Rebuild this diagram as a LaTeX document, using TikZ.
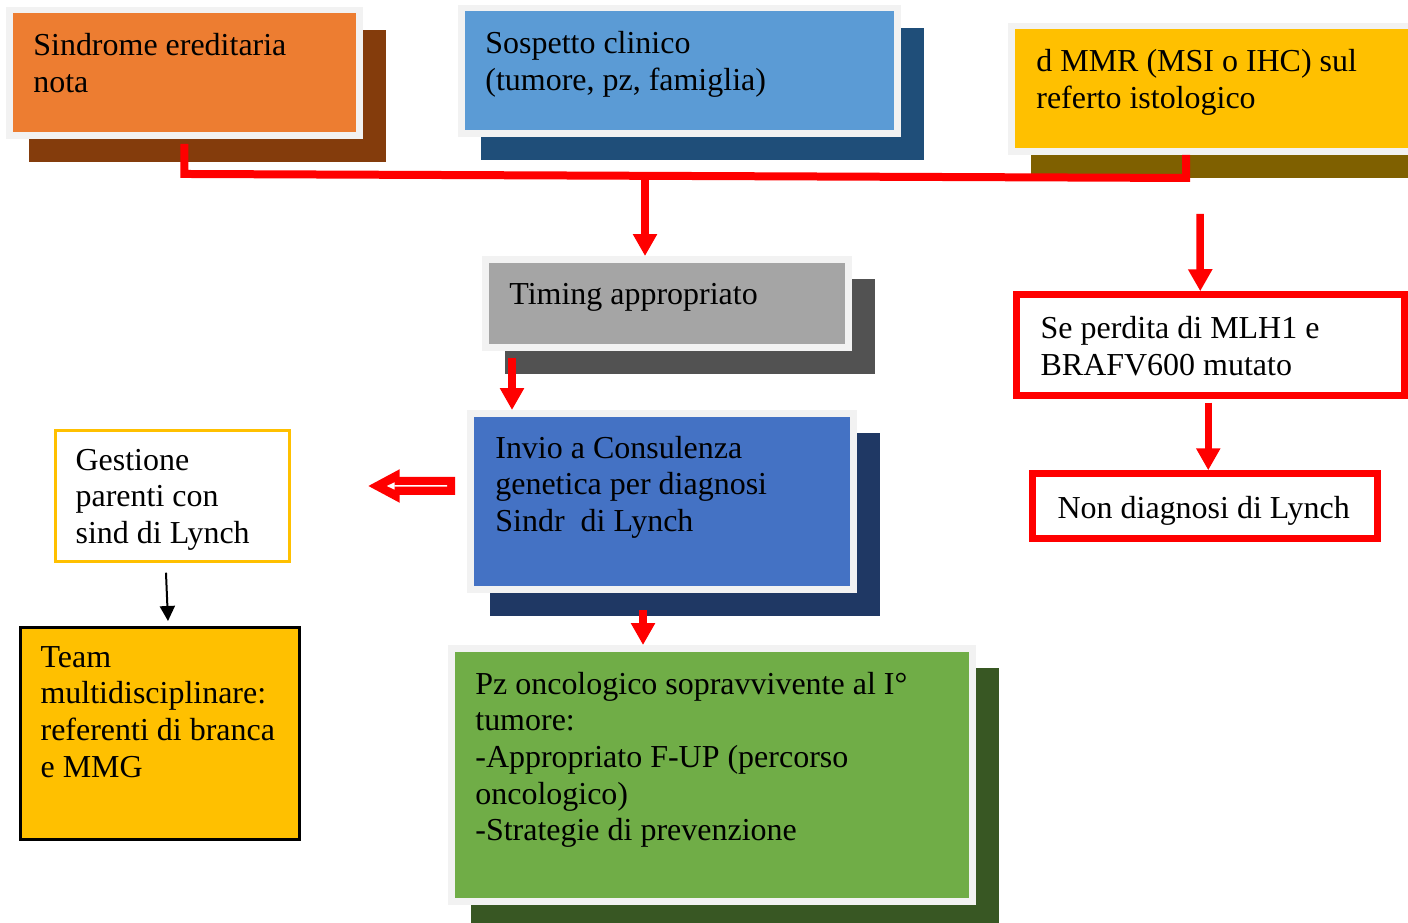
\documentclass[tikz,border=0pt]{standalone}
\usepackage{fontspec}
\setmainfont{Liberation Serif}
\usepackage{xcolor}
\usepackage{tikz}
\usetikzlibrary{arrows.meta,positioning,shadows}

\definecolor{framegray}{HTML}{F2F2F2}
\definecolor{orangefill}{HTML}{ED7D31}
\definecolor{orangeshd}{HTML}{843C0C}
\definecolor{skyfill}{HTML}{5B9BD5}
\definecolor{skyshd}{HTML}{1F4E79}
\definecolor{goldfill}{HTML}{FFC000}
\definecolor{goldshd}{HTML}{7F6000}
\definecolor{grayfill}{HTML}{A5A5A5}
\definecolor{grayshd}{HTML}{525252}
\definecolor{bluefill}{HTML}{4472C4}
\definecolor{blueshd}{HTML}{1F3864}
\definecolor{greenfill}{HTML}{70AD47}
\definecolor{greenshd}{HTML}{385723}

\begin{document}
\begin{tikzpicture}[
    x=0.02cm, y=-0.02cm,
    card/.style 2 args={rectangle, fill=framegray, inner sep=0pt, outer sep=0pt, anchor=north west,
        drop shadow={fill=#2, opacity=1, shadow xshift=0.46cm, shadow yshift=-0.46cm},
        path picture={\fill[#1] ([shift={(6.5,6.5)}]path picture bounding box.north west)
            rectangle ([shift={(-6.5,-6.5)}]path picture bounding box.south east);}},
    plain/.style={rectangle, inner sep=0pt, outer sep=0pt, anchor=north west},
    txt/.style={anchor=north west, align=left, inner sep=0pt, font=\fontsize{18.2}{20.9}\selectfont,
        execute at begin node=\strut},
    redline/.style={draw=red, line width=0.16cm},
    redarrow/.style={draw=red, line width=0.15cm, -{Triangle[width=0.46cm, length=0.44cm]}},
    blackarrow/.style={draw=black, line width=0.04cm, -{Triangle[width=0.3cm, length=0.3cm]}}
]
    \useasboundingbox (0,0) rectangle (1408,922);

    % Top row
    \node[card={orangefill}{orangeshd}, minimum width=7.14cm, minimum height=2.64cm] (sindrome) at (6,7) {};
    \node[txt] (sindrome-t) at ([shift={(27,26)}]sindrome.north west) {Sindrome ereditaria\\nota};

    \node[card={skyfill}{skyshd}, minimum width=8.86cm, minimum height=2.64cm] (sospetto) at (458,5) {};
    \node[txt] (sospetto-t) at ([shift={(27,26)}]sospetto.north west) {Sospetto clinico\\(tumore, pz, famiglia)};

    \node[card={goldfill}{goldshd}, minimum width=8.6cm, minimum height=2.64cm] (dmmr) at (1008,23) {};
    \node[txt] (dmmr-t) at ([shift={(28,26)}]dmmr.north west) {d MMR (MSI o IHC) sul\\referto istologico};

    % Middle column
    \node[card={grayfill}{grayshd}, minimum width=7.4cm, minimum height=1.9cm] (timing) at (482,256) {};
    \node[txt] (timing-t) at ([shift={(27,22.3)}]timing.north west) {Timing appropriato};

    \node[card={bluefill}{blueshd}, minimum width=7.8cm, minimum height=3.66cm] (invio) at (467,410) {};
    \node[txt] (invio-t) at ([shift={(28,25.5)}]invio.north west) {Invio a Consulenza\\genetica per diagnosi\\Sindr\ \ di Lynch};

    \node[card={greenfill}{greenshd}, minimum width=10.56cm, minimum height=5.2cm] (pz) at (448,645) {};
    \node[txt] (pz-t) at ([shift={(27,26.5)}]pz.north west) {Pz oncologico sopravvivente al I°\\tumore:\\-Appropriato F-UP (percorso\\oncologico)\\-Strategie di prevenzione};

    % Left column
    \node[plain, draw=goldfill, line width=0.05cm, fill=white, minimum width=4.69cm, minimum height=2.63cm] (gestione) at (55.25,430.25) {};
    \node[txt] (gestione-t) at ([shift={(20,18.5)}]gestione.north west) {Gestione\\parenti con\\sind di Lynch};

    \node[plain, draw=black, line width=0.05cm, fill=goldfill, minimum width=5.59cm, minimum height=4.25cm] (team) at (20.25,627.25) {};
    \node[txt] (team-t) at ([shift={(20,18.5)}]team.north west) {Team\\multidisciplinare:\\referenti di branca\\e MMG};

    % Right column
    \node[plain, draw=red, line width=0.13cm, minimum width=7.77cm, minimum height=2.03cm] (perdita) at (1016.25,294.25) {};
    \node[txt] (perdita-t) at ([shift={(24,21.5)}]perdita.north west) {Se perdita di MLH1 e\\BRAFV600 mutato};

    \node[plain, draw=red, line width=0.13cm, minimum width=6.91cm, minimum height=1.31cm] (nondiag) at (1032.25,473.25) {};
    \node[txt] (nondiag-t) at ([shift={(25,19.5)}]nondiag.north west) {Non diagnosi di Lynch};

    % Connectors
    \coordinate (junc) at (645,176);
    \draw[redline] ([shift={(0,5)}]sindrome.south) -- ++(0,30)
        -- ([shift={(178,23)}]dmmr.south west) -- ([shift={(178,0)}]dmmr.south west);
    \draw[redarrow] (junc) -- (junc |- timing.north);
    \draw[redarrow] ([shift={(30,7)}]timing.south west) -- ([shift={(45,0)}]invio.north west);
    \draw[redarrow] ([shift={(176,17)}]invio.south west) -- ([shift={(195,0)}]pz.north west);
    \draw[redarrow] ([shift={(192,59)}]dmmr.south west) -- ([shift={(184,-3)}]perdita.north west);
    \draw[redarrow] ([shift={(192,7)}]perdita.south west) -- ([shift={(176,-3)}]nondiag.north west);

    % Double arrow to Gestione
    \draw[red, line width=0.36cm, -{Triangle[width=0.62cm, length=0.64cm]}]
        ([shift={(-12,-15.5)}]invio.west) -- ([shift={(78,-10)}]gestione.east);
    \draw[white, line width=0.03cm, -{Triangle[width=0.14cm, length=0.16cm]}]
        ([shift={(-20,-15.5)}]invio.west) -- ([shift={(97,-10)}]gestione.east);

    \draw[blackarrow] ([shift={(-6.5,11)}]gestione.south) -- ([shift={(147.75,-6.25)}]team.north west);
\end{tikzpicture}
\end{document}
